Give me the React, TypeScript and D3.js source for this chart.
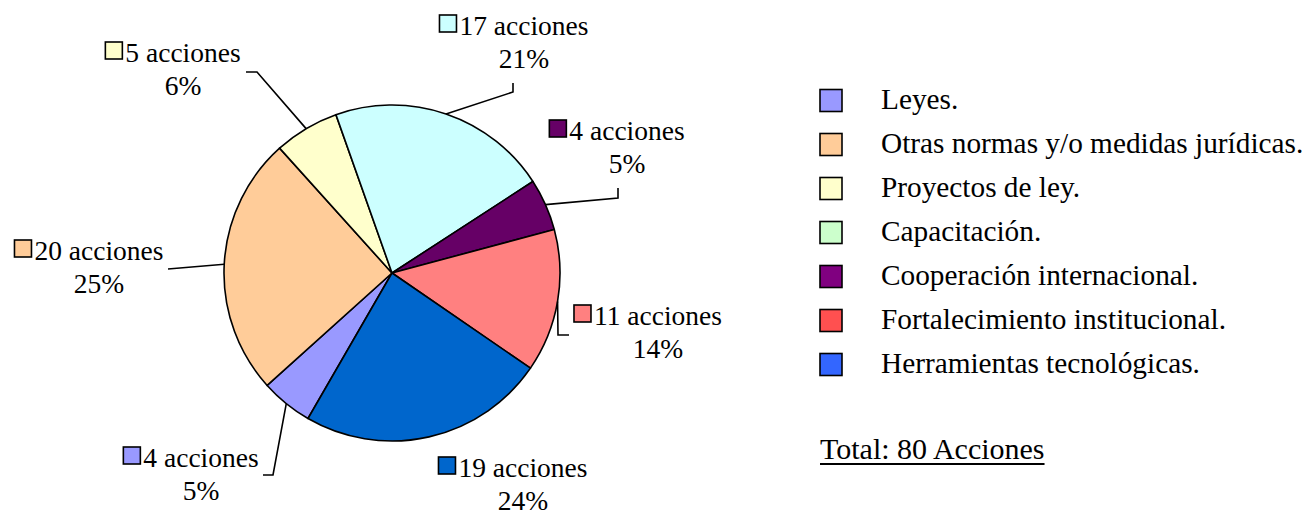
import React, { useEffect, useRef } from 'react';
import * as d3 from 'd3';

const categories = [
  'Leyes.',
  'Otras normas y/o medidas jurídicas.',
  'Proyectos de ley.',
  'Capacitación.',
  'Cooperación internacional.',
  'Fortalecimiento institucional.',
  'Herramientas tecnológicas.',
];
const acciones = [4, 20, 5, 17, 4, 11, 19];
const percentLabels = ['5%', '25%', '6%', '21%', '5%', '14%', '24%'];
const sliceColors = ['#9999FF', '#FFCC99', '#FFFFCC', '#CCFFFF', '#660066', '#FF8080', '#0066CC'];
const legendColors = ['#9999FF', '#FFCC99', '#FFFFCC', '#CCFFCC', '#800080', '#FF5050', '#3366FF'];
const totalLabel = 'Total: 80 Acciones';

// label layout: text centre x, first baseline y, leader elbow + end (null = no leader)
const labelLayout = [
  { x: 201, y: 467, leader: [[273, 475], [263, 475]] },
  { x: 99, y: 260, leader: [[168, 269]] },
  { x: 183, y: 62, leader: [[257, 72], [246, 72]] },
  { x: 524, y: 35, leader: [[513, 92], [513, 83]] },
  { x: 627, y: 140, leader: [[618, 198], [618, 188]] },
  { x: 658, y: 325, leader: [[558, 335], [569, 335]] },
  { x: 523, y: 477, leader: null },
];

const W = 1307;
const H = 515;

function drawChart(container: SVGSVGElement) {
  const svg = d3.select(container);
  svg.selectAll('*').remove();

  const cx = 392, cy = 273, r = 168;
  const font = '"Liberation Serif", "Times New Roman", serif';

  const pie = d3.pie<number>()
    .sort(null)
    .startAngle((210 * Math.PI) / 180)
    .endAngle((570 * Math.PI) / 180);
  const arcs = pie(acciones);
  const arc = d3.arc<d3.PieArcDatum<number>>().innerRadius(0).outerRadius(r);
  const edge = d3.arc<d3.PieArcDatum<number>>().innerRadius(r).outerRadius(r);

  const g = svg.append('g').attr('transform', `translate(${cx},${cy})`);
  g.selectAll('path.slice')
    .data(arcs)
    .enter().append('path')
    .attr('class', 'slice')
    .attr('d', arc)
    .attr('fill', (d, i) => sliceColors[i])
    .attr('stroke', '#000')
    .attr('stroke-width', 1.6)
    .attr('stroke-linejoin', 'round');

  // leader lines
  arcs.forEach((d, i) => {
    const lay = labelLayout[i];
    if (!lay.leader) return;
    const [ex, ey] = edge.centroid(d);
    const pts: [number, number][] = [[cx + ex, cy + ey], ...(lay.leader as [number, number][])];
    svg.append('path')
      .attr('d', d3.line()(pts))
      .attr('fill', 'none')
      .attr('stroke', '#000')
      .attr('stroke-width', 1.6);
  });

  // data labels
  const labelSize = 27.5;
  arcs.forEach((d, i) => {
    const lay = labelLayout[i];
    const t1 = svg.append('text')
      .attr('x', lay.x)
      .attr('y', lay.y)
      .attr('text-anchor', 'middle')
      .attr('font-family', font)
      .attr('font-size', labelSize)
      .attr('fill', '#000')
      .text(`${acciones[i]} acciones`);
    const w = (t1.node() as SVGTextElement).getComputedTextLength();
    svg.append('rect')
      .attr('x', lay.x - w / 2 - 20)
      .attr('y', lay.y - 20)
      .attr('width', 17)
      .attr('height', 17)
      .attr('fill', sliceColors[i])
      .attr('stroke', '#000')
      .attr('stroke-width', 1.6);
    svg.append('text')
      .attr('x', lay.x)
      .attr('y', lay.y + 33)
      .attr('text-anchor', 'middle')
      .attr('font-family', font)
      .attr('font-size', labelSize)
      .attr('fill', '#000')
      .text(percentLabels[i]);
  });

  // legend
  const rowY = d3.scalePoint<string>()
    .domain(categories)
    .range([100.5, 364.5]);
  const legend = svg.append('g');
  categories.forEach((c, i) => {
    const y = rowY(c) as number;
    legend.append('rect')
      .attr('x', 820)
      .attr('y', y - 11)
      .attr('width', 22)
      .attr('height', 22)
      .attr('fill', legendColors[i])
      .attr('stroke', '#000')
      .attr('stroke-width', 1.6);
    legend.append('text')
      .attr('x', 881)
      .attr('y', y + 8)
      .attr('font-family', font)
      .attr('font-size', 29.3)
      .attr('fill', '#000')
      .text(c);
  });

  // total
  const tot = svg.append('text')
    .attr('x', 820)
    .attr('y', 459)
    .attr('font-family', font)
    .attr('font-size', 30)
    .attr('fill', '#000')
    .text(totalLabel);
  const tw = (tot.node() as SVGTextElement).getComputedTextLength();
  svg.append('line')
    .attr('x1', 820)
    .attr('x2', 820 + tw)
    .attr('y1', 464)
    .attr('y2', 464)
    .attr('stroke', '#000')
    .attr('stroke-width', 1.8);
}

export default function App() {
  const ref = useRef<SVGSVGElement>(null);
  useEffect(() => {
    if (ref.current) drawChart(ref.current);
  }, []);
  return (
    <svg
      ref={ref}
      width={W}
      height={H}
      style={{ position: 'absolute', left: 0, top: 0, background: '#fff', display: 'block' }}
    />
  );
}
